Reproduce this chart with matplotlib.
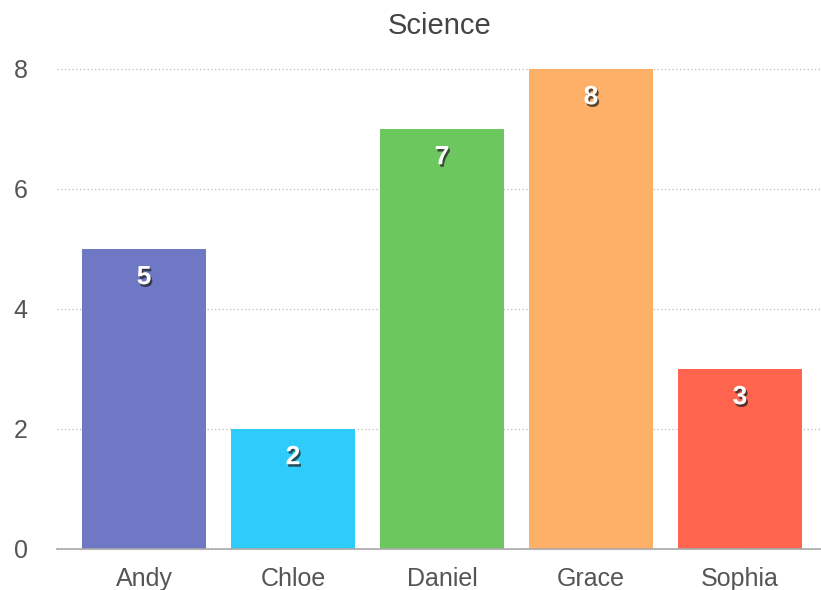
import matplotlib
matplotlib.use("Agg")
import matplotlib.pyplot as plt
import matplotlib.patheffects as pe

names = ["Andy", "Chloe", "Daniel", "Grace", "Sophia"]
scores = [5, 2, 7, 8, 3]
colors = ["#6E78C4", "#2ECCFA", "#6CC75E", "#FFB068", "#FF644E"]
yticks = [0, 2, 4, 6, 8]
title = "Science"

plt.rcParams['font.family'] = ['Liberation Sans', 'DejaVu Sans']

fig = plt.figure(figsize=(8.21, 5.90), dpi=100)
ax = fig.add_axes([57/821, 1 - 549/590, 764/821, (549 - 69)/590])

x = list(range(len(names)))
ax.bar(x, scores, width=0.832, color=colors, zorder=2)

for xi, v in zip(x, scores):
    ax.text(xi, v - 0.47, str(v), ha='center', va='center', color='white',
            fontsize=19, fontweight='bold', zorder=3,
            path_effects=[pe.withSimplePatchShadow(offset=(1.2, -1.8),
                                                   shadow_rgbFace='#222222',
                                                   alpha=0.75)])

ax.set_xlim(-0.584, 4.544)
ax.set_ylim(0, 8)
ax.set_xticks(x)
ax.set_xticklabels(names)
ax.set_yticks(yticks)
ax.tick_params(axis='both', length=0, labelsize=18, colors='#555555')
ax.tick_params(axis='y', pad=21)
ax.tick_params(axis='x', pad=13)

for s in ['top', 'right', 'left']:
    ax.spines[s].set_visible(False)
ax.spines['bottom'].set_color('#aaaaaa')
ax.spines['bottom'].set_linewidth(1.2)

ax.yaxis.grid(True, linestyle=(0, (1, 2)), color='#bbbbbb', linewidth=0.9, zorder=0)
ax.set_axisbelow(True)
for gl in ax.yaxis.get_gridlines():
    gl.set_clip_on(False)

fig.text(440/821, 1 - 26/590, title, ha='center', va='center',
         fontsize=21, color='#444444')

fig.savefig("out.png", dpi=100)
